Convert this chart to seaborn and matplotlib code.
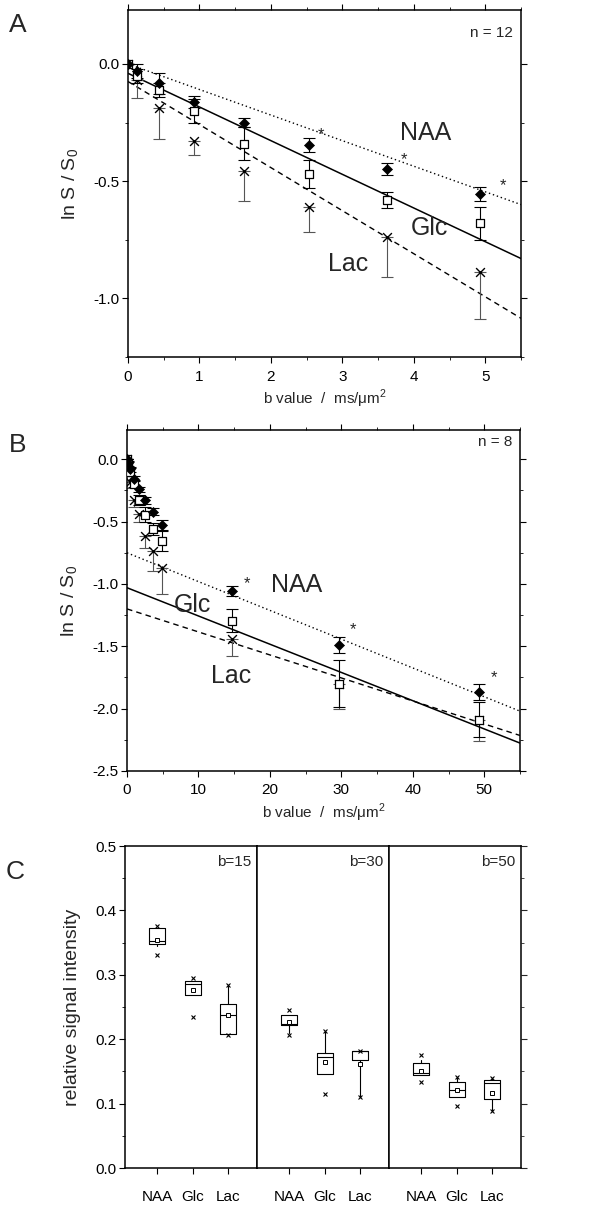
import numpy as np
import matplotlib
matplotlib.use('Agg')
import matplotlib.pyplot as plt
import matplotlib.ticker as ticker
import seaborn as sns

sns.set_style('ticks')
plt.rcParams['font.family'] = ['Liberation Sans', 'DejaVu Sans']
plt.rcParams['axes.linewidth'] = 1.1

# ---- panel A data (n = 12) ----
b_a = [0, 0.12, 0.43, 0.92, 1.62, 2.53, 3.62, 4.92]
naa_a = [0, -0.03, -0.083, -0.163, -0.25, -0.345, -0.448, -0.556]
naa_a_err = [0, 0.03, 0.045, 0.025, 0.02, 0.03, 0.025, 0.03]
glc_a = [0, -0.05, -0.11, -0.20, -0.34, -0.47, -0.58, -0.68]
glc_a_err = [0, 0.03, 0.03, 0.05, 0.07, 0.06, 0.035, 0.07]
lac_a = [0, -0.07, -0.19, -0.33, -0.455, -0.61, -0.738, -0.887]
lac_a_err = [0, 0.075, 0.13, 0.06, 0.13, 0.105, 0.17, 0.2]
fit_x_a = [0, 5.5]
fit_naa_a = [0.0, -0.60]
fit_glc_a = [-0.04, -0.83]
fit_lac_a = [-0.075, -1.085]
star_a_x = [2.70, 3.86, 5.25]
star_a_y = [-0.30, -0.41, -0.52]

# ---- panel B data (n = 8) ----
b_b = [0, 0.12, 0.43, 0.92, 1.62, 2.53, 3.62, 4.92, 14.7, 29.6, 49.3]
naa_b = [0, -0.03, -0.08, -0.155, -0.24, -0.33, -0.42, -0.53, -1.057, -1.49, -1.868]
naa_b_err = [0, 0.02, 0.02, 0.02, 0.02, 0.03, 0.03, 0.04, 0.04, 0.065, 0.065]
glc_b = [0, -0.04, -0.1, -0.195, -0.33, -0.445, -0.56, -0.655, -1.294, -1.80, -2.09]
glc_b_err = [0, 0.02, 0.03, 0.03, 0.04, 0.06, 0.05, 0.08, 0.09, 0.19, 0.14]
lac_b = [0, -0.08, -0.18, -0.33, -0.44, -0.615, -0.737, -0.873, -1.44, -1.80, -2.09]
lac_b_err = [0, 0.03, 0.05, 0.05, 0.06, 0.1, 0.16, 0.21, 0.14, 0.2, 0.17]
fit_x_b = [0, 55]
fit_naa_b = [-0.75, -2.02]
fit_glc_b = [-1.03, -2.276]
fit_lac_b = [-1.20, -2.215]
star_b_x = [16.8, 31.6, 51.4]
star_b_y = [-0.995, -1.37, -1.75]

# ---- panel C data: box statistics per b value, order NAA, Glc, Lac ----
cats = ['NAA', 'Glc', 'Lac']
b_c = ['b=15', 'b=30', 'b=50']
box_q1 = [[0.348, 0.268, 0.208], [0.222, 0.146, 0.168], [0.145, 0.111, 0.107]]
box_q3 = [[0.372, 0.291, 0.254], [0.238, 0.179, 0.181], [0.163, 0.134, 0.137]]
box_med = [[0.352, 0.286, 0.238], [0.224, 0.173, 0.181], [0.148, 0.121, 0.132]]
box_mean = [[0.354, 0.276, 0.237], [0.226, 0.164, 0.162], [0.151, 0.121, 0.117]]
box_lo = [[0.345, 0.268, 0.208], [0.209, 0.146, 0.110], [0.145, 0.111, 0.089]]
box_hi = [[0.372, 0.291, 0.283], [0.238, 0.212, 0.181], [0.167, 0.142, 0.139]]
box_min = [[0.330, 0.234, 0.207], [0.207, 0.115, 0.110], [0.133, 0.096, 0.089]]
box_max = [[0.376, 0.295, 0.284], [0.245, 0.212, 0.182], [0.176, 0.142, 0.139]]

fig = plt.figure(figsize=(5.93, 12.07), dpi=100)
W, H = 593.0, 1207.0


def px_axes(left, top, right, bottom):
    return fig.add_axes([left / W, 1 - bottom / H, (right - left) / W, (bottom - top) / H])


def curve_panel(ax, b, naa, naa_err, glc, glc_err, lac, lac_err, fx, fnaa, fglc, flac):
    sns.lineplot(x=fx, y=fnaa, ax=ax, color='k', lw=1, linestyle=(0, (1, 2)))
    sns.lineplot(x=fx, y=fglc, ax=ax, color='k', lw=1.1)
    sns.lineplot(x=fx, y=flac, ax=ax, color='k', lw=1, linestyle=(0, (4, 3)))
    zeros = [0] * len(b)
    ax.errorbar(b, lac, yerr=[lac_err, zeros], fmt='none', ecolor='#555555', elinewidth=0.8, capsize=4, capthick=0.8)
    ax.errorbar(b, glc, yerr=glc_err, fmt='none', ecolor='k', elinewidth=0.8, capsize=4, capthick=0.8)
    ax.errorbar(b, naa, yerr=naa_err, fmt='none', ecolor='k', elinewidth=0.8, capsize=4, capthick=0.8)
    sns.scatterplot(x=b, y=lac, ax=ax, marker='x', color='k', s=40, linewidth=1, zorder=5)
    sns.scatterplot(x=b, y=glc, ax=ax, marker='s', facecolor='white', edgecolor='k', s=26, linewidth=0.9, zorder=5)
    sns.scatterplot(x=b, y=naa, ax=ax, marker='D', color='k', edgecolor='k', s=26, linewidth=0.5, zorder=6)
    ax.tick_params(which='both', direction='out', top=True, right=True, labelsize=11, colors='k')
    ax.tick_params(which='major', length=4)
    ax.tick_params(which='minor', length=2.5)
    ax.tick_params(axis='x', pad=5)
    ax.tick_params(axis='y', pad=2)
    ax.yaxis.set_major_formatter(ticker.FormatStrFormatter('%.1f'))
    ax.set_ylabel('ln S / S$_\\mathregular{0}$', fontsize=14)
    ax.set_xlabel('b value  /  ms/\u03bcm$^\\mathregular{2}$', fontsize=11, labelpad=3)
    ax.yaxis.set_label_coords(-0.12, 0.5)
    for s in ax.spines.values():
        s.set_color('k')


# ---- Panel A ----
ax_a = px_axes(128, 10, 521, 357)
curve_panel(ax_a, b_a, naa_a, naa_a_err, glc_a, glc_a_err, lac_a, lac_a_err,
            fit_x_a, fit_naa_a, fit_glc_a, fit_lac_a)
ax_a.set_xlim(0, 5.5)
ax_a.set_ylim(-1.25, 0.23)
ax_a.xaxis.set_major_locator(ticker.MultipleLocator(1))
ax_a.xaxis.set_minor_locator(ticker.MultipleLocator(0.5))
ax_a.yaxis.set_major_locator(ticker.MultipleLocator(0.5))
ax_a.yaxis.set_minor_locator(ticker.MultipleLocator(0.25))
for x, y in zip(star_a_x, star_a_y):
    ax_a.text(x, y, '*', fontsize=12, ha='center', va='center')
ax_a.text(4.17, -0.295, 'NAA', fontsize=18, ha='center', va='center')
ax_a.text(4.22, -0.70, 'Glc', fontsize=18, ha='center', va='center')
ax_a.text(3.08, -0.855, 'Lac', fontsize=18, ha='center', va='center')
ax_a.text(0.98, 0.935, 'n = 12', transform=ax_a.transAxes, fontsize=11, ha='right', va='center')
fig.text(18 / W, 1 - 25 / H, 'A', fontsize=19, ha='center', va='center')

# ---- Panel B ----
ax_b = px_axes(127, 430, 520, 771)
curve_panel(ax_b, b_b, naa_b, naa_b_err, glc_b, glc_b_err, lac_b, lac_b_err,
            fit_x_b, fit_naa_b, fit_glc_b, fit_lac_b)
ax_b.set_xlim(0, 55)
ax_b.set_ylim(-2.5, 0.235)
ax_b.xaxis.set_major_locator(ticker.MultipleLocator(10))
ax_b.xaxis.set_minor_locator(ticker.MultipleLocator(5))
ax_b.yaxis.set_major_locator(ticker.MultipleLocator(0.5))
ax_b.yaxis.set_minor_locator(ticker.MultipleLocator(0.25))
for x, y in zip(star_b_x, star_b_y):
    ax_b.text(x, y, '*', fontsize=12, ha='center', va='center')
ax_b.text(23.8, -1.01, 'NAA', fontsize=18, ha='center', va='center')
ax_b.text(9.2, -1.17, 'Glc', fontsize=18, ha='center', va='center')
ax_b.text(14.6, -1.74, 'Lac', fontsize=18, ha='center', va='center')
ax_b.text(0.98, 0.965, 'n = 8', transform=ax_b.transAxes, fontsize=11, ha='right', va='center')
fig.text(18 / W, 1 - 445 / H, 'B', fontsize=19, ha='center', va='center')

# ---- Panel C ----
edges = [125, 257, 389, 521]
axes_c = []
for i in range(3):
    ax = px_axes(edges[i], 846, edges[i + 1], 1168)
    stats = []
    for j in range(3):
        stats.append({'q1': box_q1[i][j], 'q3': box_q3[i][j], 'med': box_med[i][j],
                      'mean': box_mean[i][j], 'whislo': box_lo[i][j], 'whishi': box_hi[i][j],
                      'fliers': [box_min[i][j], box_max[i][j]]})
    ax.bxp(stats, positions=[1, 2, 3], widths=0.45, showmeans=True, showcaps=False,
           boxprops=dict(color='k', lw=0.8), medianprops=dict(color='k', lw=0.8),
           whiskerprops=dict(color='k', lw=0.8),
           meanprops=dict(marker='s', markerfacecolor='white', markeredgecolor='k', markersize=3.5, markeredgewidth=0.7),
           flierprops=dict(marker='x', markeredgecolor='k', markersize=3, markeredgewidth=0.8))
    ax.set_xlim(0.1, 3.8)
    ax.set_ylim(0, 0.5)
    ax.set_xticks([1, 2, 3])
    ax.set_xticklabels(cats, fontsize=11)
    ax.tick_params(axis='x', direction='out', length=4, pad=12, colors='k')
    ax.text(0.96, 0.95, b_c[i], transform=ax.transAxes, fontsize=11, ha='right', va='center')
    ax.yaxis.set_major_locator(ticker.MultipleLocator(0.1))
    ax.yaxis.set_minor_locator(ticker.MultipleLocator(0.05))
    for s in ax.spines.values():
        s.set_color('k')
    if i == 0:
        ax.tick_params(axis='y', which='both', direction='out', labelsize=11, pad=2, colors='k')
        ax.tick_params(axis='y', which='major', length=4)
        ax.tick_params(axis='y', which='minor', length=2.5)
        ax.yaxis.set_major_formatter(ticker.FormatStrFormatter('%.1f'))
        ax.set_ylabel('relative signal intensity', fontsize=14)
        ax.yaxis.set_label_coords(-0.33, 0.5)
    elif i == 2:
        ax.tick_params(axis='y', which='both', left=False, labelleft=False, right=True, direction='out')
        ax.tick_params(axis='y', which='major', length=4)
        ax.tick_params(axis='y', which='minor', length=2.5)
    else:
        ax.tick_params(axis='y', which='both', left=False, labelleft=False)
    axes_c.append(ax)
fig.text(15 / W, 1 - 872 / H, 'C', fontsize=19, ha='center', va='center')

fig.savefig('out.png', dpi=100, facecolor='white')
